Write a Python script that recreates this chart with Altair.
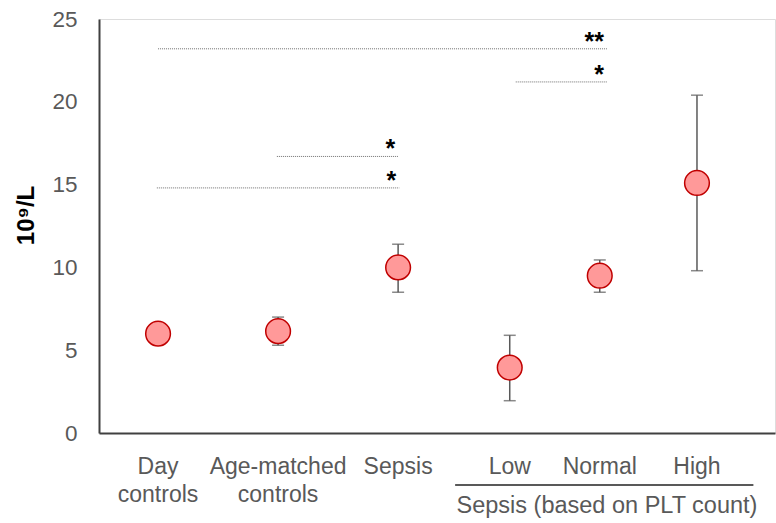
import altair as alt
import pandas as pd

# Groups, their horizontal position on the category axis, means and error ranges (10^9/L)
groups = ["Day controls", "Age-matched controls", "Sepsis", "Low", "Normal", "High"]
label_lines = [["Day", "controls"], ["Age-matched", "controls"], ["Sepsis"], ["Low"], ["Normal"], ["High"]]
x_pos = [1.0, 2.0, 3.0, 3.93, 4.68, 5.49]
means = [6.0, 6.15, 10.0, 3.95, 9.5, 15.1]
err_low = [5.85, 5.3, 8.5, 1.95, 8.5, 9.8]
err_high = [6.15, 7.0, 11.4, 5.9, 10.45, 20.4]

# Significance brackets: level, start, end, marker
sig_y = [23.2, 21.2, 16.7, 14.8]
sig_start = [1.0, 3.98, 1.99, 0.99]
sig_end = [4.74, 4.74, 3.0, 3.01]
sig_text = ["**", "*", "*", "*"]

df = pd.DataFrame({"group": groups, "x": x_pos, "mean": means, "lo": err_low, "hi": err_high,
                   "label": label_lines})
sig = pd.DataFrame({"y": sig_y, "x1": sig_start, "x2": sig_end, "txt": sig_text})
sub = pd.DataFrame({"x1": [3.475], "x2": [5.96], "txt": ["Sepsis (based on PLT count)"]})

FONT = "Liberation Sans"
GREY = "#595959"

xs = alt.Scale(domain=[0.508, 6.14], nice=False, zero=False)
ys = alt.Scale(domain=[0, 25], nice=False)

x_axis = alt.Axis(labels=False, ticks=False, grid=False, title=None,
                  domainColor="#404040", domainWidth=2)
y_axis = alt.Axis(values=[0, 5, 10, 15, 20, 25], grid=False, ticks=False,
                  domainColor="#404040", domainWidth=2,
                  labelFont=FONT, labelFontSize=22.5, labelColor=GREY, labelPadding=22,
                  title="10⁹/L", titleFont=FONT, titleFontSize=24, titleFontWeight="bold",
                  titleColor="#000000", titlePadding=13, titleY=196)

base = alt.Chart(df)

errs = base.mark_rule(color=GREY, strokeWidth=1.5).encode(
    x=alt.X("x:Q", scale=xs, axis=x_axis),
    y=alt.Y("lo:Q", scale=ys, axis=y_axis),
    y2="hi:Q")
cap_lo = base.mark_tick(color=GREY, thickness=1.5, size=12, orient="horizontal").encode(x="x:Q", y="lo:Q")
cap_hi = base.mark_tick(color=GREY, thickness=1.5, size=12, orient="horizontal").encode(x="x:Q", y="hi:Q")

points = base.mark_circle(size=610, color="#FF9999", opacity=1, stroke="#C00000",
                          strokeWidth=1.5).encode(x="x:Q", y="mean:Q")

labels = base.mark_text(font=FONT, fontSize=23, color=GREY, baseline="alphabetic", lineHeight=28,
                        align="center").encode(x="x:Q", y=alt.value(455), text="label")

sig_lines = alt.Chart(sig).mark_rule(color="#6f6f6f", strokeWidth=1, strokeDash=[1, 1]).encode(
    x="x1:Q", x2="x2:Q", y="y:Q")
sig_marks = alt.Chart(sig).mark_text(font=FONT, fontSize=25, fontWeight="bold", color="#000000",
                                     align="right", baseline="alphabetic", dx=-3, dy=1).encode(
    x="x2:Q", y="y:Q", text="txt")

sub_line = alt.Chart(sub).mark_rule(color=GREY, strokeWidth=2).encode(
    x="x1:Q", x2="x2:Q", y=alt.value(466))
sub_text = alt.Chart(sub).mark_text(font=FONT, fontSize=23.5, color=GREY, baseline="alphabetic").encode(
    x=alt.datum(4.74), y=alt.value(494), text="txt")

chart = alt.layer(errs, cap_lo, cap_hi, sig_lines, sig_marks, points, labels, sub_line, sub_text).properties(
    width=676, height=414,
    autosize=alt.AutoSizeParams(type="none"),
    padding={"left": 99, "top": 19, "right": 1, "bottom": 90},
).configure_view(stroke=None).configure(background="white")

chart.save("out.html", embed_options={"renderer": "svg", "actions": False})
